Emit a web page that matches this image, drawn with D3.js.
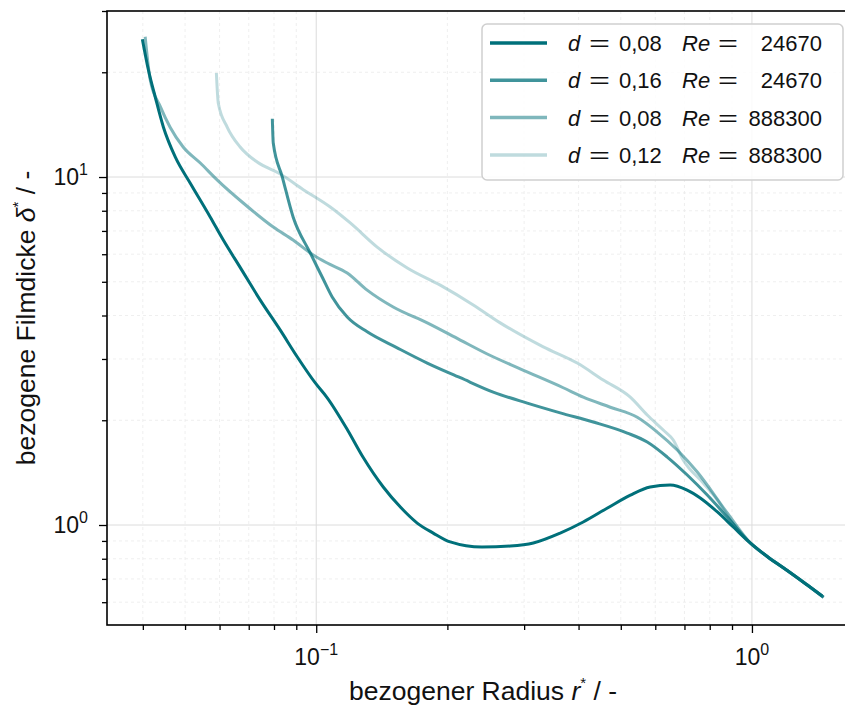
<!DOCTYPE html>
<html><head><meta charset="utf-8">
<script src="https://d3js.org/d3.v7.min.js"></script>
<style>
body{margin:0;background:#fff}
svg{display:block}
text{font-family:"Liberation Sans",Arial,sans-serif;fill:#111}
</style>
</head><body>
<svg id="c" width="845" height="706"></svg>
<script>
// ---- data ----
const r1 = [0.0399,0.0412,0.0427,0.0446,0.0475,0.0514,0.0571,0.0612,0.0669,0.0744,0.0827,0.0905,0.0995,0.106,0.118,0.128,0.1425,0.156,0.1705,0.1856,0.203,0.240,0.279,0.315,0.363,0.410,0.466,0.526,0.584,0.649,0.710,0.761,0.833,0.906,0.991,1.084,1.205,1.340,1.450];
const d1 = [24.9,20.3,17.0,13.9,11.4,9.6,7.68,6.59,5.5,4.43,3.63,3.04,2.56,2.32,1.875,1.568,1.286,1.126,1.013,0.948,0.894,0.864,0.870,0.888,0.948,1.020,1.119,1.219,1.286,1.303,1.260,1.196,1.090,0.987,0.888,0.812,0.740,0.672,0.625];

const r2 = [0.0793,0.0797,0.0836,0.0885,0.0969,0.1032,0.1088,0.1178,0.1309,0.1534,0.1798,0.2141,0.2548,0.3050,0.3631,0.4323,0.5174,0.5750,0.6391,0.7104,0.7896,0.8776,0.991,1.084,1.205,1.340,1.460];
const d2 = [14.7,12.5,10.0,7.68,6.05,5.16,4.52,3.96,3.59,3.23,2.92,2.65,2.41,2.24,2.10,1.977,1.838,1.732,1.568,1.392,1.219,1.054,0.888,0.812,0.740,0.672,0.620];

const r3 = [0.0405,0.0416,0.0439,0.0462,0.0495,0.0542,0.0593,0.0680,0.0797,0.0885,0.0984,0.1060,0.1178,0.1309,0.1502,0.1798,0.2141,0.2469,0.2938,0.3689,0.4102,0.4730,0.5455,0.6062,0.6739,0.7490,0.8776,0.991,1.084,1.205,1.340,1.460];
const d3v = [25.3,19.0,15.9,13.9,12.2,10.97,9.8,8.42,7.18,6.59,5.97,5.66,5.30,4.73,4.23,3.81,3.40,3.10,2.81,2.48,2.33,2.18,2.04,1.85,1.643,1.420,1.083,0.888,0.812,0.740,0.672,0.620];

const r4 = [0.0590,0.0596,0.0625,0.0669,0.0732,0.0827,0.0934,0.1077,0.1197,0.1380,0.1618,0.1926,0.2293,0.2644,0.3319,0.3972,0.4557,0.5257,0.5750,0.6258,0.6598,0.6955,0.7730,0.8325,0.8916,0.991,1.084,1.205,1.340,1.460];
const d4 = [19.9,16.3,13.9,12.2,11.04,10.2,9.2,8.20,7.38,6.29,5.48,4.89,4.29,3.81,3.25,2.92,2.61,2.33,2.07,1.875,1.755,1.537,1.320,1.180,1.034,0.888,0.812,0.740,0.672,0.620];

const legendD  = ["0,08","0,16","0,08","0,12"];
const legendRe = ["24670","24670","888300","888300"];
const lineAlpha = [1.0,0.75,0.5,0.25];
const baseColor = "rgb(0,112,122)";

const xMajor = [0.1,1];
const xMinor = [0.04,0.05,0.06,0.07,0.08,0.09,0.2,0.3,0.4,0.5,0.6,0.7,0.8,0.9];
const yMajor = [1,10];
const yMinor = [0.6,0.7,0.8,0.9,2,3,4,5,6,7,8,9,20,30];
const xTickLabels = [["10","\u22121"],["10","0"]];
const yTickLabels = [["10","0"],["10","1"]];

// ---- layout ----
const L=107, R=860, T=11, B=625;
const svg = d3.select("#c");
const x = d3.scaleLog().domain([0.0331,1.77]).range([L,R]);
const y = d3.scaleLog().domain([0.516,30]).range([B,T]);

svg.append("defs").append("clipPath").attr("id","clip")
  .append("rect").attr("x",L).attr("y",T).attr("width",R-L).attr("height",B-T);

const grid = svg.append("g");
grid.selectAll(".gxm").data(xMinor).join("line")
  .attr("x1",d=>x(d)).attr("x2",d=>x(d)).attr("y1",T).attr("y2",B)
  .attr("stroke","#ebebeb").attr("stroke-width",0.8).attr("stroke-dasharray","3,3");
grid.selectAll(".gym").data(yMinor.filter(v=>v<30)).join("line")
  .attr("y1",d=>y(d)).attr("y2",d=>y(d)).attr("x1",L).attr("x2",R)
  .attr("stroke","#ebebeb").attr("stroke-width",0.8).attr("stroke-dasharray","3,3");
grid.selectAll(".gxM").data(xMajor).join("line")
  .attr("x1",d=>x(d)).attr("x2",d=>x(d)).attr("y1",T).attr("y2",B)
  .attr("stroke","#dcdcdc").attr("stroke-width",1);
grid.selectAll(".gyM").data(yMajor).join("line")
  .attr("y1",d=>y(d)).attr("y2",d=>y(d)).attr("x1",L).attr("x2",R)
  .attr("stroke","#dcdcdc").attr("stroke-width",1);

// ---- curves ----
const series = [[r1,d1],[r2,d2],[r3,d3v],[r4,d4]];
const line = d3.line().x(p=>x(p[0])).y(p=>y(p[1])).curve(d3.curveMonotoneX);
const plot = svg.append("g").attr("clip-path","url(#clip)");
series.forEach((s,i)=>{
  const pts = s[0].map((r,k)=>[r,s[1][k]]);
  plot.append("path").attr("d",line(pts)).attr("fill","none")
    .attr("stroke",baseColor).attr("stroke-opacity",lineAlpha[i])
    .attr("stroke-width",3).attr("stroke-linejoin","round").attr("stroke-linecap","butt");
});

// ---- axes ----
const xAxisMajor = d3.axisBottom(x).tickValues(xMajor).tickSize(8).tickFormat("");
const xAxisMinor = d3.axisBottom(x).tickValues(xMinor).tickSize(5).tickFormat("");
const yAxisMajor = d3.axisLeft(y).tickValues(yMajor).tickSize(8).tickFormat("");
const yAxisMinor = d3.axisLeft(y).tickValues(yMinor).tickSize(5).tickFormat("");
[xAxisMinor,xAxisMajor].forEach(a=>{
  const g = svg.append("g").attr("transform",`translate(0,${B})`).call(a);
  g.select(".domain").remove();
  g.selectAll("line").attr("stroke","#000").attr("stroke-width",1.3);
});
[yAxisMinor,yAxisMajor].forEach(a=>{
  const g = svg.append("g").attr("transform",`translate(${L},0)`).call(a);
  g.select(".domain").remove();
  g.selectAll("line").attr("stroke","#000").attr("stroke-width",1.3);
});
// spines
svg.append("rect").attr("x",L).attr("y",T).attr("width",R-L).attr("height",B-T)
  .attr("fill","none").attr("stroke","#000").attr("stroke-width",1.6);

// tick labels
xMajor.forEach((v,i)=>{
  const t = svg.append("text").attr("x",x(v)).attr("y",665).attr("text-anchor","middle").attr("font-size",23);
  t.append("tspan").text(xTickLabels[i][0]);
  t.append("tspan").attr("dy",-10).attr("font-size",16).text(xTickLabels[i][1]);
});
yMajor.forEach((v,i)=>{
  const t = svg.append("text").attr("x",88).attr("y",y(v)+8).attr("text-anchor","end").attr("font-size",23);
  t.append("tspan").text(yTickLabels[i][0]);
  t.append("tspan").attr("dy",-10).attr("font-size",16).text(yTickLabels[i][1]);
});

// axis labels
const xl = svg.append("text").attr("x",483).attr("y",700).attr("text-anchor","middle").attr("font-size",26.5);
xl.append("tspan").text("bezogener Radius ");
xl.append("tspan").attr("font-style","italic").text("r");
xl.append("tspan").attr("dy",-12).attr("font-size",15).text("*");
xl.append("tspan").attr("dy",12).text(" / -");

const yl = svg.append("text").attr("transform",`translate(35,${(T+B)/2}) rotate(-90)`).attr("text-anchor","middle").attr("font-size",26.5);
yl.append("tspan").text("bezogene Filmdicke ");
yl.append("tspan").attr("font-style","italic").text("\u03b4");
yl.append("tspan").attr("dy",-12).attr("font-size",15).text("*");
yl.append("tspan").attr("dy",12).text(" / -");

// ---- legend ----
const lg = svg.append("g");
lg.append("rect").attr("x",482).attr("y",24).attr("width",361).attr("height",156).attr("rx",5)
  .attr("fill","#fff").attr("fill-opacity",0.85).attr("stroke","#cfcfcf").attr("stroke-width",1.5);
legendD.forEach((dv,i)=>{
  const cy = 43 + i*37.3;
  lg.append("line").attr("x1",490).attr("x2",547).attr("y1",cy).attr("y2",cy)
    .attr("stroke",baseColor).attr("stroke-opacity",lineAlpha[i]).attr("stroke-width",3.5);
  const by = cy + 8;
  lg.append("text").attr("x",568).attr("y",by).attr("font-size",22).attr("font-style","italic").text("d");
  lg.append("text").attr("x",589).attr("y",by).attr("font-size",22).attr("textLength",21).attr("lengthAdjust","spacingAndGlyphs").text("=");
  lg.append("text").attr("x",619).attr("y",by).attr("font-size",22).text(dv);
  lg.append("text").attr("x",682).attr("y",by).attr("font-size",22).attr("font-style","italic").text("Re");
  lg.append("text").attr("x",718).attr("y",by).attr("font-size",22).attr("textLength",20).attr("lengthAdjust","spacingAndGlyphs").text("=");
  lg.append("text").attr("x",822).attr("y",by).attr("font-size",22).attr("text-anchor","end").text(legendRe[i]);
});
</script>
</body></html>
